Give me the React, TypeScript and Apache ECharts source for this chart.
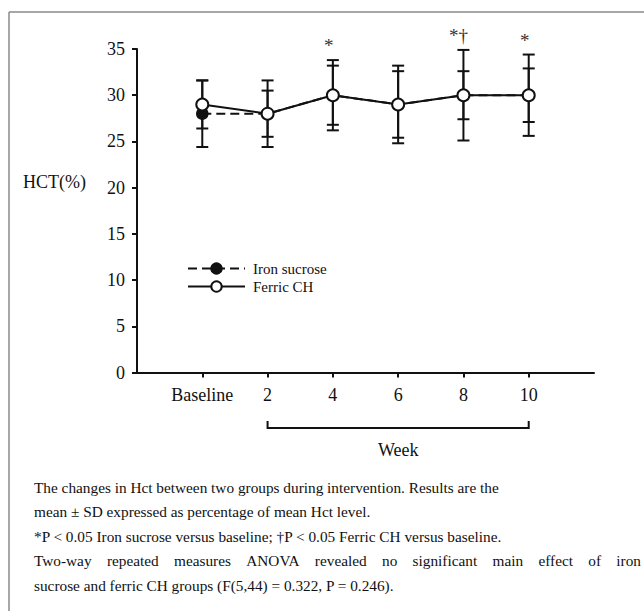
import React, { useEffect, useRef } from 'react';
import * as echarts from 'echarts';

const weeks = ['Baseline', '2', '4', '6', '8', '10'];
const ironMean = [28, 28, 30, 29, 30, 30];
const ironSD = [3.6, 2.5, 3.2, 3.6, 2.6, 2.9];
const ferricMean = [29, 28, 30, 29, 30, 30];
const ferricSD = [2.6, 3.6, 3.8, 4.2, 4.9, 4.4];
const sigMarks = ['', '', '*', '', '*†', '*'];
const seriesNames = ['Iron sucrose', 'Ferric CH'];
const yMin = 0;
const yMax = 35;
const yStep = 5;
const yTitle = 'HCT(%)';
const xTitle = 'Week';
const captionLines = [
  'The changes in Hct between two groups during intervention. Results are the',
  'mean ± SD expressed as percentage of mean Hct level.',
  '*P < 0.05 Iron sucrose versus baseline; †P < 0.05 Ferric CH versus baseline.',
  'Two-way repeated measures ANOVA revealed no significant main effect of iron',
  'sucrose and ferric CH groups (F(5,44) = 0.322, P = 0.246).',
];

const SERIF = 'Liberation Serif';
const INK = '#111';

export default function App() {
  const ref = useRef<HTMLDivElement>(null);
  useEffect(() => {
    if (!ref.current) return;
    const chart = echarts.init(ref.current, undefined, { renderer: 'svg' });
    const xCats = ['', ...weeks, ' '];
    const errStyle = { stroke: INK, lineWidth: 2 };
    const errRender = (params: any, api: any) => {
      const x = api.value(0);
      const m = api.value(1);
      const sd = api.value(2);
      const top = api.coord([x, m + sd]);
      const bot = api.coord([x, m - sd]);
      const hw = 6;
      return {
        type: 'group',
        children: [
          { type: 'line', shape: { x1: top[0], y1: top[1], x2: bot[0], y2: bot[1] }, style: errStyle },
          { type: 'line', shape: { x1: top[0] - hw, y1: top[1], x2: top[0] + hw, y2: top[1] }, style: errStyle },
          { type: 'line', shape: { x1: bot[0] - hw, y1: bot[1], x2: bot[0] + hw, y2: bot[1] }, style: errStyle },
        ],
      };
    };
    const sigData = weeks.map((w, i) => [w, Math.max(ironMean[i] + ironSD[i], ferricMean[i] + ferricSD[i])]);
    chart.setOption({
      animation: false,
      backgroundColor: '#fff',
      textStyle: { fontFamily: SERIF },
      grid: { left: 137, right: 50, top: 49, bottom: 238.5, containLabel: false },
      legend: {
        orient: 'vertical',
        left: 182,
        top: 256,
        itemWidth: 57,
        itemHeight: 13,
        itemGap: 3,
        data: seriesNames,
        textStyle: { fontFamily: SERIF, fontSize: 15, color: INK, padding: [0, 0, 0, 3] },
      },
      xAxis: {
        type: 'category',
        data: xCats,
        boundaryGap: false,
        axisLine: { lineStyle: { color: INK, width: 2 } },
        axisTick: {
          length: 5,
          lineStyle: { color: INK, width: 2 },
          interval: (idx: number, val: string) => idx > 0 && idx < xCats.length - 1,
        },
        axisLabel: {
          interval: 0,
          margin: 13,
          fontFamily: SERIF,
          fontSize: 18,
          color: INK,
        },
        splitLine: { show: false },
      },
      yAxis: {
        type: 'value',
        min: yMin,
        max: yMax,
        interval: yStep,
        axisLine: { show: true, lineStyle: { color: INK, width: 2 } },
        axisTick: { show: true, length: 5, lineStyle: { color: INK, width: 2 } },
        axisLabel: { margin: 12, fontFamily: SERIF, fontSize: 18, color: INK },
        splitLine: { show: false },
      },
      series: [
        {
          type: 'custom',
          name: 'iron-err',
          renderItem: errRender,
          data: weeks.map((w, i) => [w, ironMean[i], ironSD[i]]),
          z: 1,
          silent: true,
        },
        {
          type: 'custom',
          name: 'ferric-err',
          renderItem: errRender,
          data: weeks.map((w, i) => [w, ferricMean[i], ferricSD[i]]),
          z: 1,
          silent: true,
        },
        {
          type: 'line',
          name: seriesNames[0],
          data: weeks.map((w, i) => [w, ironMean[i]]),
          symbol: 'circle',
          symbolSize: 11,
          lineStyle: { color: INK, width: 2, type: [9, 5] },
          itemStyle: { color: INK, borderColor: INK, borderWidth: 1.5 },
          z: 3,
        },
        {
          type: 'line',
          name: seriesNames[1],
          data: weeks.map((w, i) => [w, ferricMean[i]]),
          symbol: 'circle',
          symbolSize: 12,
          lineStyle: { color: INK, width: 2, type: 'solid' },
          itemStyle: { color: '#fff', borderColor: INK, borderWidth: 2 },
          z: 4,
        },
        {
          type: 'custom',
          name: 'sig',
          silent: true,
          data: sigData,
          z: 5,
          renderItem: (params: any, api: any) => {
            const p = api.coord([api.value(0), api.value(1)]);
            const s = sigMarks[params.dataIndex];
            const dagger = s.indexOf('†') >= 0;
            return {
              type: 'text',
              x: p[0] - (dagger ? 5 : 4),
              y: p[1] - 5,
              style: {
                text: s,
                fontFamily: SERIF,
                fontSize: 19,
                fill: '#333',
                align: 'center',
                verticalAlign: 'bottom',
              },
            };
          },
        },
      ],
    });

    // layout-dependent decorations
    const pA = chart.convertToPixel({ xAxisIndex: 0 }, weeks[1]) as number;
    const pB = chart.convertToPixel({ xAxisIndex: 0 }, weeks[weeks.length - 1]) as number;
    const bracketY = 428;
    const capSize = 15.3;
    const canvas = document.createElement('canvas');
    const ctx = canvas.getContext('2d')!;
    ctx.font = `${capSize}px ${SERIF}`;
    const capLeft = 34;
    const capTop = 487;
    const lineH = 24.5;
    const justifyRight = 641;
    const graphics: any[] = [
      { type: 'line', shape: { x1: 9, y1: 12, x2: 644, y2: 12 }, style: { stroke: '#8a8a8a', lineWidth: 1.5 } },
      { type: 'line', shape: { x1: 9, y1: 12, x2: 9, y2: 611 }, style: { stroke: '#8a8a8a', lineWidth: 1.5 } },
      {
        type: 'text',
        x: 23,
        y: 182,
        style: { text: yTitle, fontFamily: SERIF, fontSize: 18, fill: INK, verticalAlign: 'middle' },
      },
      {
        type: 'polyline',
        shape: { points: [[pA, bracketY - 7], [pA, bracketY], [pB, bracketY], [pB, bracketY - 7]] },
        style: { stroke: INK, lineWidth: 2, fill: null },
      },
      {
        type: 'text',
        x: (pA + pB) / 2,
        y: 450,
        style: { text: xTitle, fontFamily: SERIF, fontSize: 18, fill: INK, align: 'center', verticalAlign: 'middle' },
      },
    ];
    captionLines.forEach((line, li) => {
      const y = capTop + li * lineH;
      if (li === 3) {
        const words = line.split(' ');
        const widths = words.map((w) => ctx.measureText(w).width);
        const total = widths.reduce((a, b) => a + b, 0);
        const gap = (justifyRight - capLeft - total) / (words.length - 1);
        let x = capLeft;
        words.forEach((w, wi) => {
          graphics.push({
            type: 'text',
            x,
            y,
            style: { text: w, fontFamily: SERIF, fontSize: capSize, fill: INK, verticalAlign: 'middle' },
          });
          x += widths[wi] + gap;
        });
      } else {
        graphics.push({
          type: 'text',
          x: capLeft,
          y,
          style: { text: line, fontFamily: SERIF, fontSize: capSize, fill: INK, verticalAlign: 'middle' },
        });
      }
    });
    chart.setOption({ graphic: graphics });

    return () => chart.dispose();
  }, []);
  return (
    <div
      ref={ref}
      style={{ position: 'absolute', left: 0, top: 0, width: 644, height: 611, background: '#fff' }}
    />
  );
}
